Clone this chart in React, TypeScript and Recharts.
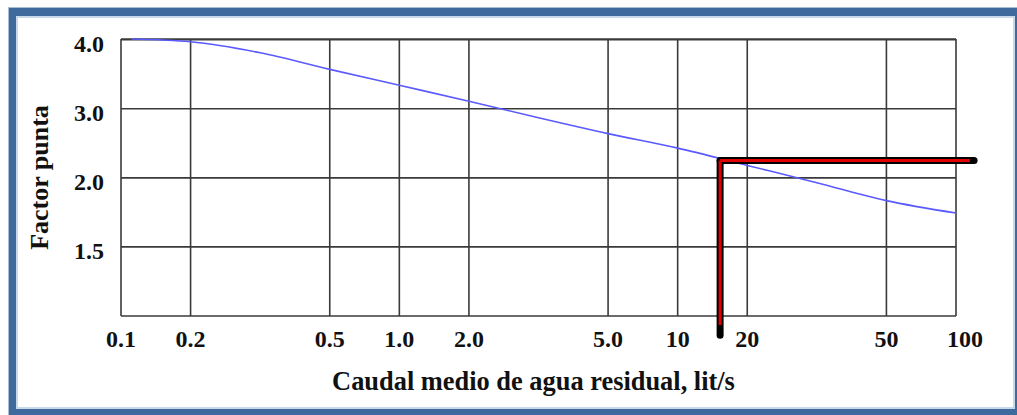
import React from 'react';
import {
  LineChart,
  Line,
  XAxis,
  YAxis,
  CartesianGrid,
  ReferenceLine,
  Label,
} from 'recharts';

/* the chart uses an evenly spaced (index) grid, labels are mapped on top */
const qIdx = [0.15, 1, 2, 3, 4, 5, 6, 7, 8, 9, 10, 11, 12];
const factorIdx = [4.01, 3.97, 3.81, 3.57, 3.34, 3.11, 2.87, 2.64, 2.43, 2.18, 1.93, 1.67, 1.49];

const xTickPos = [0, 1, 3, 4, 5, 7, 8, 9, 11, 12];
const xTickLabels = ['0.1', '0.2', '0.5', '1.0', '2.0', '5.0', '10', '20', '50', '100'];
const yTickPos = [0, 1, 2, 3, 4];
const yTickLabels = ['', '1.5', '2.0', '3.0', '4.0'];

// reading marked on the chart
const markQ = 8.61;
const markF = 2.25;
const markBottom = -0.28;
const markRight = 12.26;

const data = qIdx.map((q, i) => ({ q, f: factorIdx[i] }));

const FONT = '"Liberation Serif", "Times New Roman", serif';

const XTick = (props: any) => {
  const { x, y, payload } = props;
  const i = xTickPos.indexOf(payload.value);
  const lbl = i >= 0 ? xTickLabels[i] : '';
  return (
    <text x={x} y={y} dy={31} dx={lbl === '100' ? 9 : 0} textAnchor="middle" fontFamily={FONT} fontWeight="bold" fontSize={24} fill="#111">
      {lbl}
    </text>
  );
};

const YTickLeft = (props: any) => {
  const { x, y, payload } = props;
  const i = yTickPos.indexOf(payload.value);
  return (
    <text x={x} y={y} dx={-17} dy={12} textAnchor="end" fontFamily={FONT} fontWeight="bold" fontSize={24} fill="#111">
      {i >= 0 ? yTickLabels[i] : ''}
    </text>
  );
};

const YTickRight = (props: any) => {
  const { x, y, payload } = props;
  const i = yTickPos.indexOf(payload.value);
  return (
    <text x={x} y={y} dx={16} dy={12} textAnchor="start" fontFamily={FONT} fontWeight="bold" fontSize={24} fill="#111">
      {i >= 0 ? yTickLabels[i] : ''}
    </text>
  );
};

const App = () => {
  return (
    <div style={{ position: 'absolute', left: 0, top: 0, width: 1017, height: 415, background: '#fff' }}>
      <div
        style={{
          position: 'absolute',
          left: 9,
          top: 8,
          right: 0,
          bottom: 0,
          borderStyle: 'solid',
          borderColor: '#3f6a9e',
          borderWidth: '8px 2px 6px 7px',
          boxShadow: 'inset 0 0 0 2px #c9d9ec, 0 0 0 1px #a8bdd6',
        }}
      />
      <LineChart
        width={1017}
        height={415}
        data={data}
        margin={{ top: 39, right: 11, bottom: 19, left: 41 }}
        style={{ position: 'absolute', left: 0, top: 0 }}
      >
        <CartesianGrid yAxisId="left" stroke="#3a3a3a" strokeWidth={1.6} />
        <XAxis
          dataKey="q"
          type="number"
          domain={[0, 12]}
          ticks={xTickPos}
          interval={0}
          height={80}
          axisLine={false}
          tickLine={false}
          tickSize={0}
          tickMargin={0}
          tick={<XTick />}
        >
          <Label
            content={(p: any) => {
              const vb = p.viewBox;
              return (
                <text x={vb.x + vb.width / 2 - 5} y={vb.y + 74} textAnchor="middle" fontFamily={FONT} fontWeight="bold" fontSize={26.4} fill="#111">
                  Caudal medio de agua residual, lit/s
                </text>
              );
            }}
          />
        </XAxis>
        <YAxis
          yAxisId="left"
          type="number"
          domain={[0, 4]}
          ticks={yTickPos}
          interval={0}
          width={80}
          axisLine={false}
          tickLine={false}
          tickSize={0}
          tickMargin={0}
          tick={<YTickLeft />}
        >
          <Label
            content={(p: any) => {
              const vb = p.viewBox;
              const cx = vb.x + 7;
              const cy = vb.y + vb.height / 2;
              return (
                <text x={cx} y={cy} transform={`rotate(-90 ${cx} ${cy})`} textAnchor="middle" fontFamily={FONT} fontWeight="bold" fontSize={26} fill="#111">
                  Factor punta
                </text>
              );
            }}
          />
        </YAxis>
        <YAxis
          yAxisId="right"
          orientation="right"
          type="number"
          domain={[0, 4]}
          ticks={yTickPos}
          interval={0}
          width={50}
          axisLine={false}
          tickLine={false}
          tickSize={0}
          tickMargin={0}
          tick={<YTickRight />}
        />
        <Line
          yAxisId="left"
          type="monotone"
          dataKey="f"
          stroke="#5a5aff"
          strokeWidth={1.6}
          dot={false}
          isAnimationActive={false}
        />
        <ReferenceLine
          yAxisId="left"
          ifOverflow="visible"
          segment={[{ x: markQ, y: markBottom }, { x: markQ, y: markF }]}
          stroke="#000"
          strokeWidth={7}
          strokeLinecap="round"
        />
        <ReferenceLine
          yAxisId="left"
          ifOverflow="visible"
          segment={[{ x: markQ, y: markF }, { x: markRight, y: markF }]}
          stroke="#000"
          strokeWidth={7}
          strokeLinecap="round"
        />
        <ReferenceLine
          yAxisId="left"
          ifOverflow="visible"
          segment={[{ x: markQ, y: markBottom + 0.15 }, { x: markQ, y: markF }]}
          stroke="#e00000"
          strokeWidth={3}
        />
        <ReferenceLine
          yAxisId="left"
          ifOverflow="visible"
          segment={[{ x: markQ, y: markF }, { x: markRight - 0.06, y: markF }]}
          stroke="#e00000"
          strokeWidth={3}
        />
      </LineChart>
    </div>
  );
};

export default App;
